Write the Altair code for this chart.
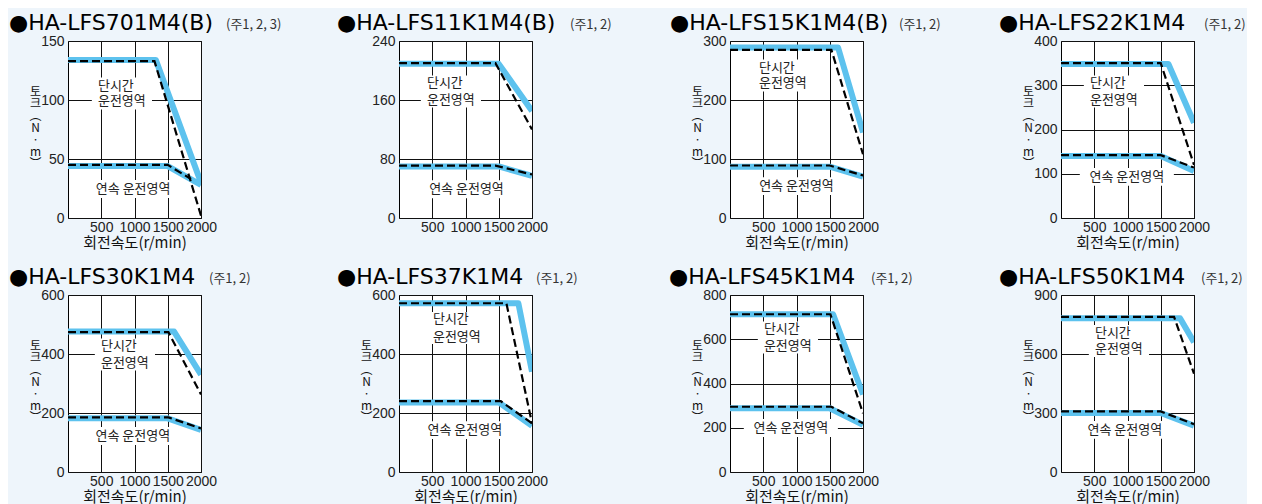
import altair as alt
import pandas as pd

# ---------------- data ----------------
models = ["HA-LFS701M4(B)", "HA-LFS11K1M4(B)", "HA-LFS15K1M4(B)", "HA-LFS22K1M4",
          "HA-LFS30K1M4", "HA-LFS37K1M4", "HA-LFS45K1M4", "HA-LFS50K1M4"]
notes = ["(주1, 2, 3)", "(주1, 2)", "(주1, 2)", "(주1, 2)",
         "(주1, 2)", "(주1, 2)", "(주1, 2)", "(주1, 2)"]
y_ticks = [[0, 50, 100, 150], [0, 80, 160, 240], [0, 100, 200, 300], [0, 100, 200, 300, 400],
           [0, 200, 400, 600], [0, 200, 400, 600], [0, 200, 400, 600, 800], [0, 300, 600, 900]]
x_ticks = [500, 1000, 1500, 2000]

# blue band : short-time (단시간) limit
blue_short_x = [[0, 1320, 2000], [0, 1500, 2000], [0, 1625, 2000], [0, 1615, 2000],
                [0, 1595, 2000], [0, 1795, 2000], [0, 1550, 2000], [0, 1790, 2000]]
blue_short_y = [[134, 134, 30], [209, 209, 145], [289, 289, 145], [348, 348, 215],
                [476, 476, 330], [572, 572, 340], [713, 713, 350], [782, 782, 660]]
# dashed : short-time limit
dash_short_x = [[0, 1300, 2000], [0, 1450, 2000], [0, 1525, 2000], [0, 1500, 2000],
                [0, 1510, 2000], [0, 1615, 2000], [0, 1510, 2000], [0, 1700, 2000]]
dash_short_y = [[133, 133, 2], [210, 210, 120], [285, 285, 108], [350, 350, 120],
                [474, 474, 263], [572, 572, 165], [713, 713, 265], [789, 789, 500]]
# blue band : continuous (연속) limit
blue_cont_x = [[0, 1500, 2000]] * 8
blue_cont_y = [[44, 44, 28], [70, 70, 57], [87, 87, 70], [140, 140, 106],
               [182, 182, 143], [236, 236, 157], [288, 288, 213], [300, 300, 236]]
# dashed : continuous limit
dash_cont_x = [[0, 1500, 1850], [0, 1450, 2000], [0, 1500, 2000], [0, 1500, 2000],
               [0, 1510, 2000], [0, 1530, 2000], [0, 1525, 2000], [0, 1500, 2000]]
dash_cont_y = [[45, 45, 33], [71, 71, 59], [89, 89, 72], [142, 142, 114],
               [185, 185, 148], [240, 240, 165], [295, 295, 220], [308, 308, 243]]

# region labels
short_label_lines = ["단시간", "운전영역"]
cont_label = "연속 운전영역"
short_label_x = [450, 420, 435, 435, 495, 510, 510, 510]
short_label_y1 = [112, 183, 254, 305, 427, 519, 646, 707]
short_label_y2 = [99, 160, 229, 267, 369, 458, 569, 625]
cont_label_x = [980, 1015, 1000, 990, 975, 990, 915, 960]
cont_label_y = [24.6, 39, 54, 93, 122, 142, 199, 214]

show_axis_titles = [True, False, True, True, True, True, True, True]
x_title = "회전속도(r/min)"
y_title = ["토", "크", "︵", "N", "·", "m", "︶"]

# ---------------- style ----------------
BG = "#EEF5FB"
BLUE = "#5DC2EE"
KR = "Noto Sans CJK KR"
NUM = "Liberation Sans Narrow, Arial Narrow, Liberation Sans, sans-serif"
TITLE_FONT = "DejaVu Sans"
W = 133
H = 177
title_dx = [-59, -62, -60, -62, -59, -62, -61, -62]
note_dx = [158, 171, 169, 143, 141, 137, 141, 140]


def panel(i):
    w = W
    ymax = y_ticks[i][-1]
    rows = []
    for name, xs, ys in [("blue_short", blue_short_x[i], blue_short_y[i]),
                         ("blue_cont", blue_cont_x[i], blue_cont_y[i]),
                         ("dash_short", dash_short_x[i], dash_short_y[i]),
                         ("dash_cont", dash_cont_x[i], dash_cont_y[i])]:
        for k, (a, b) in enumerate(zip(xs, ys)):
            rows.append({"x": a, "y": b, "series": name, "k": k})
    df = pd.DataFrame(rows)
    blue_df = df[df["series"].str.startswith("blue")]
    dash_df = df[df["series"].str.startswith("dash")]

    show = show_axis_titles[i]
    xaxis = alt.Axis(values=x_ticks, format="d", grid=True, gridColor="#111", gridWidth=1,
                     gridOpacity=1, domain=False, ticks=False, labelFont=NUM, labelFontSize=14,
                     labelColor="#222", labelPadding=2, labelFlush=False, labelOverlap=False,
                     title=x_title if show else "", titleFont=KR, titleFontSize=15,
                     titleFontWeight="normal", titleColor="#111", titleX=w / 2, titleY=17,
                     titleAlign="center", titleBaseline="top")
    yaxis = alt.Axis(values=y_ticks[i], format="d", grid=True, gridColor="#111", gridWidth=1,
                     gridOpacity=1, domain=False, ticks=False, labelFont=NUM, labelFontSize=14,
                     labelColor="#222", labelPadding=4, labelFlush=False, labelOverlap=False,
                     title=y_title if show else "", titleFont=KR, titleFontSize=12,
                     titleFontWeight="normal", titleColor="#111", titleAngle=0,
                     titleX=-33, titleY=45, titleAlign="center", titleBaseline="top",
                     titleLineHeight=12)
    xe = alt.X("x:Q", scale=alt.Scale(domain=[0, 2000], nice=False, zero=False), axis=xaxis)
    ye = alt.Y("y:Q", scale=alt.Scale(domain=[0, ymax], nice=False, zero=False), axis=yaxis)

    short_lab = pd.DataFrame({"x": [short_label_x[i]] * 2,
                              "y": [short_label_y1[i], short_label_y2[i]],
                              "t": short_label_lines})
    short_box = pd.DataFrame({"x": [short_label_x[i]],
                              "y": [(short_label_y1[i] + short_label_y2[i]) / 2]})
    cont_lab = pd.DataFrame({"x": [cont_label_x[i]], "y": [cont_label_y[i]], "t": [cont_label]})
    head = pd.DataFrame({"m": ["●" + models[i]], "n": [notes[i]]})

    box_short = alt.Chart(short_box).mark_point(
        shape="M-0.19,-0.5H1.69V0.5H-0.19Z", size=4096, filled=True, color="white",
        opacity=1, strokeWidth=0).encode(x=xe, y=ye)
    box_cont = alt.Chart(cont_lab).mark_point(
        shape="M-1.47,-0.28H1.47V0.28H-1.47Z", size=4096, filled=True, color="white",
        opacity=1, strokeWidth=0).encode(x=xe, y=ye)
    blue = alt.Chart(blue_df).mark_line(color=BLUE, strokeWidth=6, strokeJoin="round",
                                        clip=True).encode(
        x=xe, y=ye, detail="series:N", order="k:Q")
    dash = alt.Chart(dash_df).mark_line(color="black", strokeWidth=2.2, strokeDash=[8, 4],
                                        clip=True).encode(
        x=xe, y=ye, detail="series:N", order="k:Q")
    t_short = alt.Chart(short_lab).mark_text(font=KR, fontSize=13, color="#222", align="left",
                                             baseline="middle").encode(x=xe, y=ye, text="t:N")
    t_cont = alt.Chart(cont_lab).mark_text(font=KR, fontSize=13, color="#222", align="center",
                                           baseline="middle").encode(x=xe, y=ye, text="t:N")
    t_title = alt.Chart(head).mark_text(font=TITLE_FONT, fontSize=22, color="black",
                                        align="left", baseline="alphabetic").encode(
        x=alt.value(title_dx[i]), y=alt.value(-11), text="m:N")
    t_note = alt.Chart(head).mark_text(font=KR, fontSize=13, color="#333",
                                       align="left", baseline="alphabetic").encode(
        x=alt.value(note_dx[i]), y=alt.value(-12), text="n:N")

    return alt.layer(box_short, box_cont, blue, dash, t_short, t_cont, t_title, t_note).properties(
        width=w, height=H)


panels = [panel(i) for i in range(8)]

chart = alt.concat(*panels, columns=4, spacing={"row": 77, "column": 198}, bounds="flush").properties(
    background=BG, padding={"left": 0, "top": 3, "right": 0, "bottom": 0}
).configure_view(fill="white", stroke="black", strokeWidth=1)

chart.save("out.html", embed_options={"renderer": "svg", "actions": False})
